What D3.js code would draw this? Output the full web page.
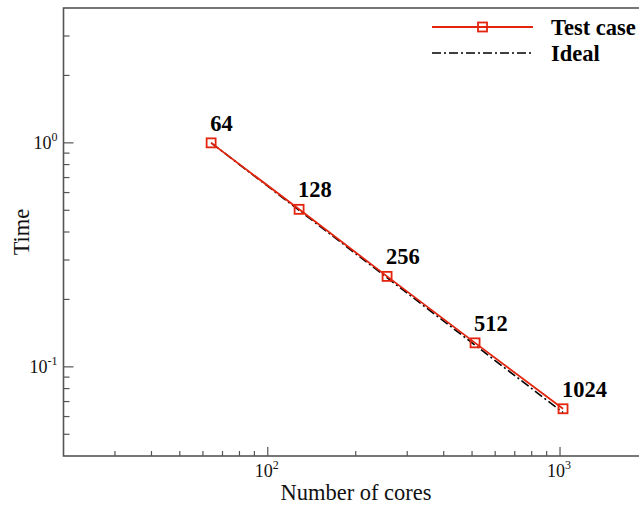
<!DOCTYPE html>
<html>
<head>
<meta charset="utf-8">
<script src="https://cdn.jsdelivr.net/npm/d3@7"></script>
<style>
  html, body { margin: 0; padding: 0; background: #fff; }
  svg { display: block; }
</style>
</head>
<body>
<svg id="chart" width="639" height="506"></svg>
<script>
// Strong-scaling data: cores vs. normalised run time
const cores = [64, 128, 256, 512, 1024];
const testCase = [1.0, 0.505, 0.2535, 0.128, 0.065];
const ideal = [1.0, 0.5, 0.25, 0.125, 0.0625];
const pointLabels = ["64", "128", "256", "512", "1024"];
const xMajorExp = [2, 3];
const yMajorExp = [0, -1];
const seriesNames = ["Test case", "Ideal"];

const svg = d3.select("#chart");
const RED = "#e3250f";
const FRAME = "#555";
const serif = "'Liberation Serif', 'Times New Roman', serif";

const x = d3.scaleLog().domain([20, 2000]).range([63.5, 648]);
const y = d3.scaleLog().domain([4, 0.04]).range([8, 456]);

const plotLeft = x.range()[0], plotRight = x.range()[1];
const plotTop = y.range()[0], plotBottom = y.range()[1];

// Minor/major tick positions from the scales
const xTicks = x.ticks().filter(v => v > 20 && v < 2000);
const yTicks = y.ticks().filter(v => v > 0.04 && v < 4);
const isMajor = v => Math.abs(Math.log10(v) - Math.round(Math.log10(v))) < 1e-9;

const axes = svg.append("g");

// bottom ticks (pointing inward)
axes.selectAll(".xt").data(xTicks).enter().append("line")
  .attr("x1", d => x(d)).attr("x2", d => x(d))
  .attr("y1", plotBottom).attr("y2", d => plotBottom - (isMajor(d) ? 9 : 5))
  .attr("stroke", FRAME).attr("stroke-width", 1.2);

// left ticks
axes.selectAll(".yt").data(yTicks).enter().append("line")
  .attr("y1", d => y(d)).attr("y2", d => y(d))
  .attr("x1", plotLeft).attr("x2", d => plotLeft + (isMajor(d) ? 10 : 6))
  .attr("stroke", FRAME).attr("stroke-width", 1.2);

// frame
axes.append("rect")
  .attr("x", plotLeft).attr("y", plotTop)
  .attr("width", plotRight - plotLeft).attr("height", plotBottom - plotTop)
  .attr("fill", "none").attr("stroke", FRAME).attr("stroke-width", 1.6);

// x tick labels 10^n
xMajorExp.forEach(e => {
  const t = axes.append("text")
    .attr("x", x(Math.pow(10, e)) - 1).attr("y", plotBottom + 21)
    .attr("text-anchor", "middle")
    .attr("font-family", serif).attr("font-size", 18).attr("fill", "#111");
  t.append("tspan").text("10");
  t.append("tspan").attr("font-size", 12).attr("dy", -8).text(e);
});

// y tick labels 10^n
yMajorExp.forEach(e => {
  const t = axes.append("text")
    .attr("x", plotLeft - 6).attr("y", y(Math.pow(10, e)) + 6)
    .attr("text-anchor", "end")
    .attr("font-family", serif).attr("font-size", 18).attr("fill", "#111");
  t.append("tspan").text("10");
  t.append("tspan").attr("font-size", 12).attr("dy", -8).text(e);
});

// axis titles
svg.append("text")
  .attr("x", 356).attr("y", 500)
  .attr("text-anchor", "middle")
  .attr("font-family", serif).attr("font-size", 22.5).attr("fill", "#111")
  .text("Number of cores");

svg.append("text")
  .attr("transform", "translate(29,232) rotate(-90)")
  .attr("text-anchor", "middle")
  .attr("font-family", serif).attr("font-size", 22.5).attr("fill", "#111")
  .text("Time");

const line = d3.line().x(d => x(d[0])).y(d => y(d[1]));
const plot = svg.append("g");

// ideal scaling: dash-dot
plot.append("path")
  .datum(cores.map((c, i) => [c, ideal[i]]))
  .attr("d", line)
  .attr("fill", "none").attr("stroke", "#000").attr("stroke-width", 1.6)
  .attr("stroke-dasharray", "9,3,2,3");

// measured
plot.append("path")
  .datum(cores.map((c, i) => [c, testCase[i]]))
  .attr("d", line)
  .attr("fill", "none").attr("stroke", RED).attr("stroke-width", 1.8);

plot.selectAll(".mk").data(cores.map((c, i) => [c, testCase[i]])).enter().append("rect")
  .attr("x", d => x(d[0]) - 4.5).attr("y", d => y(d[1]) - 4.5)
  .attr("width", 9).attr("height", 9)
  .attr("fill", "none").attr("stroke", RED).attr("stroke-width", 1.8);

// point labels
plot.selectAll(".lb").data(cores.map((c, i) => [c, testCase[i], pointLabels[i]])).enter().append("text")
  .attr("x", d => x(d[0]) - 1).attr("y", d => y(d[1]) - 12)
  .attr("font-family", serif).attr("font-size", 22.5).attr("font-weight", "bold").attr("fill", "#000")
  .text(d => d[2]);

// legend
const leg = svg.append("g");
leg.append("line").attr("x1", 432).attr("x2", 533).attr("y1", 27).attr("y2", 27)
  .attr("stroke", RED).attr("stroke-width", 1.8);
leg.append("rect").attr("x", 478).attr("y", 22.5).attr("width", 9).attr("height", 9)
  .attr("fill", "none").attr("stroke", RED).attr("stroke-width", 1.8);
leg.append("line").attr("x1", 432).attr("x2", 533).attr("y1", 53).attr("y2", 53)
  .attr("stroke", "#000").attr("stroke-width", 1.6).attr("stroke-dasharray", "9,3,2,3");
leg.selectAll(".lt").data(seriesNames).enter().append("text")
  .attr("x", 551).attr("y", (d, i) => 35 + i * 26)
  .attr("font-family", serif).attr("font-size", 22.5).attr("font-weight", "bold").attr("fill", "#000")
  .text(d => d);
</script>
</body>
</html>
